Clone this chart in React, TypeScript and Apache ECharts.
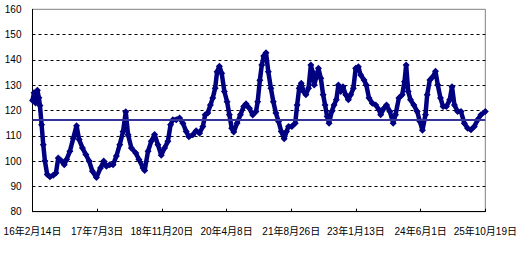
import React, { useEffect, useRef } from "react";
import * as echarts from "echarts";

// Day offsets from 2016-02-14
const dayIndex = [
  0, 12, 24, 38, 50, 58, 71, 84, 97, 115, 136, 162, 183, 201, 227, 248, 266, 292, 318, 344,
  364, 390, 416, 442, 468, 499, 531, 556, 577, 603, 629, 655, 681, 707, 728, 746, 772, 806, 831, 863,
  876, 902, 927, 953, 979, 1005, 1031, 1057, 1078, 1096, 1122, 1148, 1174, 1200, 1221, 1252, 1278, 1304, 1330, 1348,
  1368, 1389, 1407, 1426, 1441, 1459, 1477, 1498, 1519, 1537, 1555, 1571, 1597, 1623, 1649, 1667, 1693, 1719, 1745, 1758,
  1775, 1790, 1805, 1823, 1841, 1861, 1880, 1900, 1921, 1942, 1965, 1983, 1999, 2025, 2051, 2066, 2082, 2098, 2116, 2134,
  2155, 2173, 2186, 2199, 2217, 2232, 2251, 2269, 2284, 2300, 2315, 2336, 2354, 2372, 2388, 2406, 2424, 2445, 2466, 2484,
  2505, 2523, 2544, 2562, 2588, 2606, 2627, 2653, 2679, 2705, 2718, 2744, 2764, 2790, 2816, 2834, 2860, 2886, 2904, 2917,
  2933, 2951, 2977, 3003, 3024, 3044, 3068, 3081, 3102, 3127, 3146, 3164, 3185, 3205, 3231, 3257, 3275, 3294, 3319, 3345,
  3371, 3397, 3423, 3449, 3475, 3501, 3535,
];

const indexValues = [
  124, 127, 123, 128, 125, 122, 114.4, 106.5, 100, 94.7, 93.8, 94.4, 95.3, 101.2, 100, 98.6, 100.6, 103.9, 109, 114,
  108.5, 105.2, 102.6, 100, 96, 93.5, 97.3, 100, 98, 98.6, 98.6, 102, 106.5, 111.7, 119.5, 110.4, 105.2, 103.2, 100.6, 97.3,
  96.3, 103.9, 107.8, 110.5, 106.5, 102.3, 105.2, 107.8, 114.4, 116.3, 116.3, 117, 115, 111.7, 109.6, 110.4, 112, 111, 113.7, 118.3,
  119, 122.2, 124.9, 128.8, 135.3, 137.5, 134.7, 127.5, 123.5, 118.3, 113, 111.5, 115, 118.3, 121.6, 122.7, 120.9, 118.2, 119.6, 123.5,
  132, 138, 141.5, 142.8, 135.3, 128.8, 123.5, 119, 115.7, 111.7, 108.8, 111.7, 113.7, 113.7, 115, 122.2, 128.8, 130.8, 127.5, 126.2,
  128.8, 138, 135.3, 130.1, 133.4, 136.7, 132.7, 126.2, 122.2, 117.6, 115, 119.6, 122.2, 124.2, 130.1, 127.5, 129.4, 126.2, 124.2, 126.2,
  128.8, 136.7, 137.3, 134, 132.1, 130.1, 124.9, 122.9, 122.2, 120.3, 118.3, 120.9, 122.2, 119.6, 115, 118.3, 124.9, 126.2, 131.4, 138,
  127.5, 124.2, 122.2, 119.6, 115.7, 112.2, 118.3, 126.2, 132.1, 133.4, 135.5, 130.1, 124.9, 121.6, 121.6, 124.2, 129.4, 122.2, 119.6, 119.6,
  115, 113, 112.4, 113.7, 116.3, 118.3, 119.6,
];

const averageLevel = 116.5;

const xTickLabels = [
  "16年2月14日",
  "17年7月3日",
  "18年11月20日",
  "20年4月8日",
  "21年8月26日",
  "23年1月13日",
  "24年6月1日",
  "25年10月19日",
];
const xTickStep = 505;
const yTicks = [80, 90, 100, 110, 120, 130, 140, 150, 160];

export default function App() {
  const ref = useRef<HTMLDivElement>(null);
  useEffect(() => {
    if (!ref.current) return;
    const chart = echarts.init(ref.current, null, { renderer: "svg" });
    const font = "'Liberation Sans', Arial, 'Noto Sans CJK JP', sans-serif";
    const data = dayIndex.map((d, i) => [d, indexValues[i]]);
    chart.setOption({
      animation: false,
      backgroundColor: "#ffffff",
      grid: {
        left: 32.5,
        right: 33.3,
        top: 9.3,
        bottom: 41.3,
        show: true,
        borderColor: "#808080",
        borderWidth: 1,
        backgroundColor: "transparent",
      },
      xAxis: {
        type: "value",
        min: 0,
        max: xTickStep * (xTickLabels.length - 1),
        interval: xTickStep,
        axisLine: { show: true, lineStyle: { color: "#000", width: 1 } },
        axisTick: { show: true, inside: true, length: 3, lineStyle: { color: "#000" } },
        splitLine: { show: false },
        axisLabel: {
          show: true,
          showMinLabel: true,
          showMaxLabel: true,
          margin: 15,
          fontSize: 10,
          fontFamily: font,
          color: "#000",
          formatter: (v: number) => xTickLabels[Math.round(v / xTickStep)] ?? "",
        },
      },
      yAxis: {
        type: "value",
        min: yTicks[0],
        max: yTicks[yTicks.length - 1],
        interval: 10,
        axisLine: { show: true, lineStyle: { color: "#000", width: 1 } },
        axisTick: { show: false },
        splitLine: {
          show: true,
          showMinLine: false,
          showMaxLine: false,
          lineStyle: { color: "#000", type: [3, 3], width: 1 },
        },
        axisLabel: {
          margin: 11,
          fontSize: 10,
          fontFamily: font,
          color: "#000",
        },
      },
      series: [
        {
          type: "line",
          data,
          symbol: "diamond",
          symbolSize: 7,
          showSymbol: true,
          itemStyle: { color: "#000080" },
          lineStyle: { color: "#000080", width: 4.5 },
          z: 2,
          markLine: {
            silent: true,
            symbol: ["none", "none"],
            label: { show: false },
            lineStyle: { color: "#333399", width: 2, type: "solid" },
            data: [{ yAxis: averageLevel }],
            z: 5,
          },
        },
      ],
    });
    return () => chart.dispose();
  }, []);
  return (
    <div
      ref={ref}
      style={{ position: "fixed", left: 0, top: 0, width: 520, height: 253, background: "#fff" }}
    />
  );
}
